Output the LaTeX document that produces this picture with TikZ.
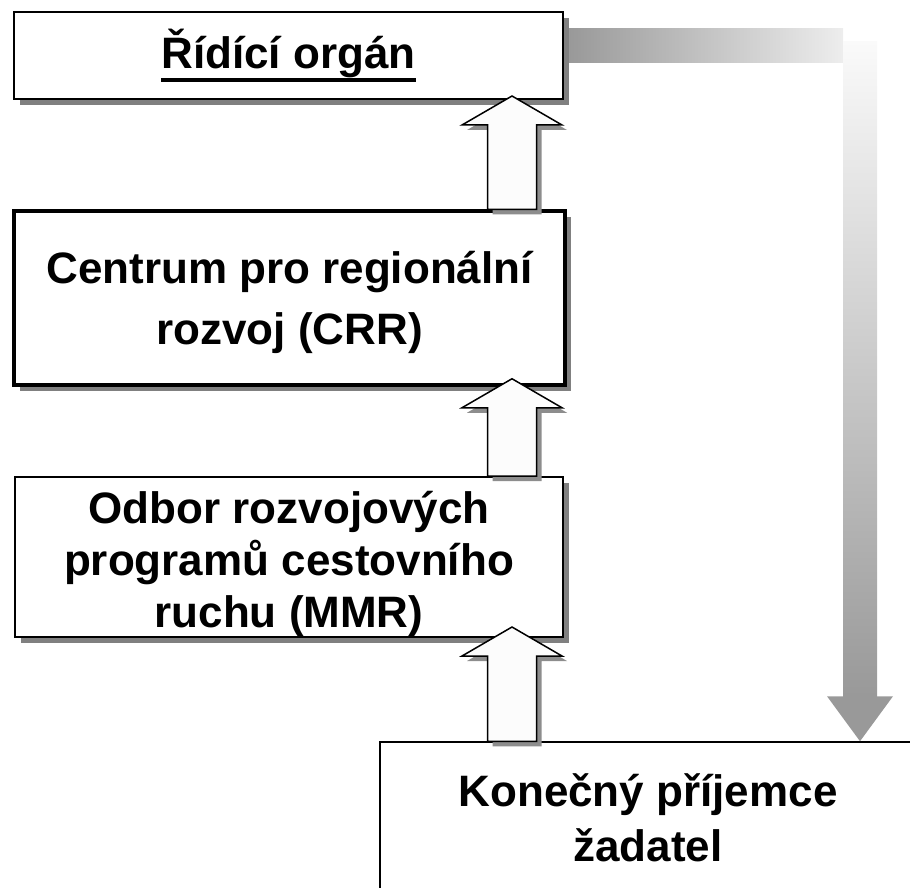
\documentclass[tikz,border=0pt]{standalone}
\usepackage{fontspec}
\setmainfont{Liberation Sans}
\usetikzlibrary{shadows,calc}

\definecolor{shade}{HTML}{808080}
\definecolor{arrgray}{HTML}{999999}
\definecolor{arrfill}{HTML}{FCFCFC}

% underline with a thick bar
\newcommand{\thickul}[1]{\setbox0\hbox{#1}\rlap{\rule[-13pt]{\wd0}{4pt}}\box0}

% block arrow from the lower node #1 up to the upper node #2 (#3 = overlap)
\newcommand{\blockup}[3]{%
  \coordinate (bot) at (#1.north -| axis);
  \coordinate (tip) at ($(#2.south -| axis)+(0,-#3)$);
  \draw[blockarr] ($(bot)+(-24.5,0)$) |- ($(tip)+(-50,29)$) -- (tip)
    -- ($(tip)+(50,29)$) -| ($(bot)+(24.5,0)$) -- cycle;
}

\begin{document}
\begin{tikzpicture}[x=1pt,y=-1pt,
    box/.style={draw, fill=white, line width=2pt, inner sep=0pt, align=center,
      font=\fontsize{44}{54}\selectfont\bfseries,
      drop shadow={shadow xshift=6pt, shadow yshift=-6pt, fill=shade, opacity=1}},
    boxtext/.style={inner sep=0pt, align=center},
    blockarr/.style={draw, fill=arrfill, line width=1.5pt, line join=miter,
      drop shadow={shadow xshift=5pt, shadow yshift=-5pt, fill=shade!90, opacity=1}}]
  \clip (0,0) rectangle (910,888);

  \coordinate (axis) at (512,0);
  \coordinate (turn) at (860,46);

  \node[box, minimum width=549, minimum height=87] (ridici) at (288.5,55.5)
    {\thickul{Řídící orgán}};
  \node[box, line width=3.5pt, minimum width=551, minimum height=174,
    label={[boxtext, name=crrtext, yshift=-4pt,
      font=\fontsize{44}{61}\selectfont\bfseries]center:{Centrum pro regionální\\rozvoj (CRR)}}]
    (crr) at (289.5,298) {};
  \node[box, minimum width=548, minimum height=160,
    label={[boxtext, name=odbortext, yshift=-7pt,
      font=\fontsize{44}{52}\selectfont\bfseries]center:{Odbor rozvojových\\programů cestovního\\ruchu (MMR)}}]
    (odbor) at (289,557) {};

  \node[draw, fill=white, line width=1.5pt, inner sep=0pt,
    minimum width=536, minimum height=163,
    label={[boxtext, name=prijemcetext, yshift=6pt,
      font=\fontsize{44}{55}\selectfont\bfseries]center:{Konečný příjemce\\žadatel}}]
    (prijemce) at (648,823.5) {};

  % gray arrow back to the applicant
  \shade[left color=arrgray, right color=black!7]
    ($(ridici.east |- turn)+(5,-17)$) rectangle ($(turn)+(-17,17)$);
  \shade[top color=black!2, bottom color=arrgray]
    ($(turn)+(-17,-4)$) rectangle ($(turn |- prijemce.north)+(17,-45)$);
  \fill[arrgray] ($(turn |- prijemce.north)+(-33,-45)$) -- ($(turn |- prijemce.north)+(33,-45)$)
    -- (turn |- prijemce.north) -- cycle;

  \blockup{crr}{ridici}{4}
  \blockup{odbor}{crr}{8}
  \blockup{prijemce}{odbor}{11}
\end{tikzpicture}
\end{document}
